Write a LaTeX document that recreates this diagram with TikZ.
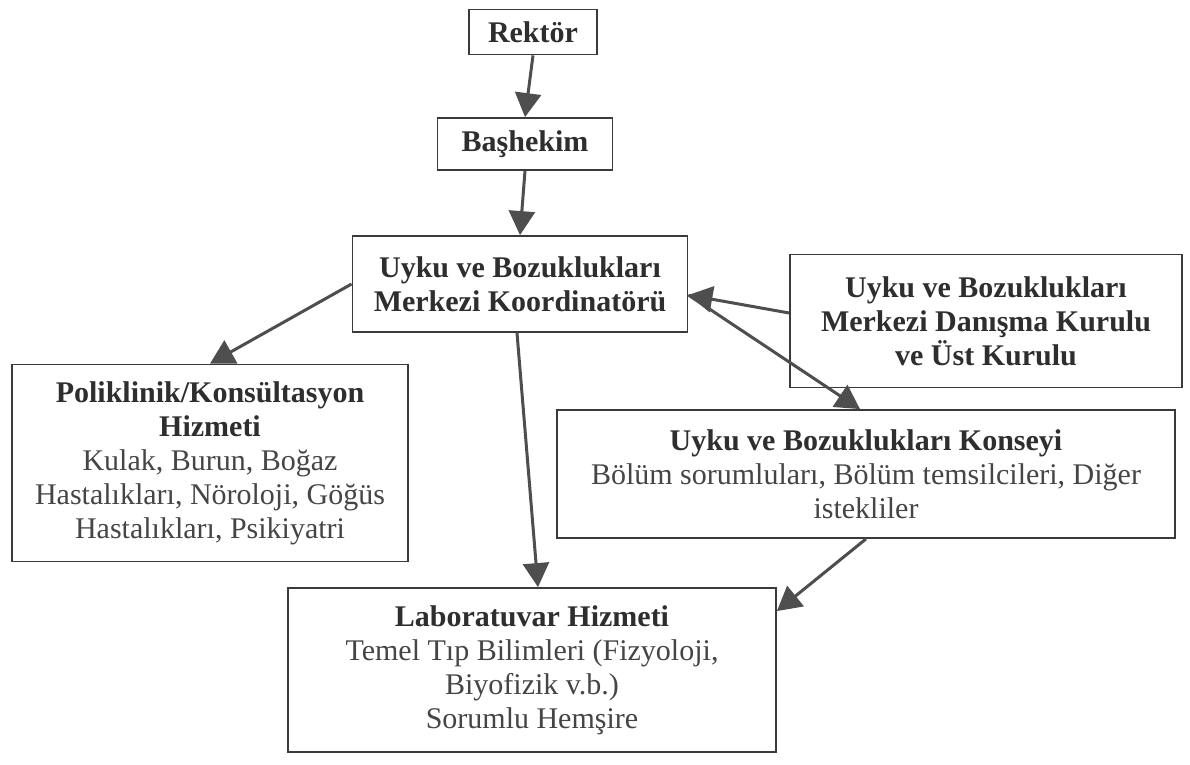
\documentclass[tikz,border=0pt]{standalone}
\usepackage{fontspec}
\setmainfont{Liberation Serif}
\usetikzlibrary{arrows.meta}
\definecolor{boxline}{HTML}{3A3A3A}
\definecolor{arrowc}{HTML}{4E4E4E}
\definecolor{txt}{HTML}{2E2E2E}
\definecolor{txtlight}{HTML}{454545}
\tikzset{
  orgbox/.style={draw=boxline, line width=0.9pt, fill=white, inner sep=0pt, align=center,
    text=txt, font=\fontsize{15}{17}\selectfont},
  conn/.style={draw=arrowc, line width=1.5pt, -{Triangle[length=12pt,width=13pt]}},
}
\newcommand{\ttl}[1]{\textbf{#1}}
\newcommand{\sub}[1]{\textcolor{txtlight}{#1}}
\begin{document}
\begin{tikzpicture}[x=0.5pt,y=-0.5pt]
\useasboundingbox (0,0) rectangle (1190,765);
\node[orgbox, minimum width=64pt, minimum height=22.5pt] (rektor) at (533,32) {\ttl{Rektör}};
\node[orgbox, minimum width=87.5pt, minimum height=26pt] (bashekim) at (525,144) {\ttl{Başhekim}};
\node[orgbox, minimum width=167.5pt, minimum height=48pt] (coord) at (520,284)
  {\ttl{Uyku ve Bozuklukları}\\\ttl{Merkezi Koordinatörü}};
\node[orgbox, minimum width=196pt, minimum height=66.5pt] (danisma) at (986,321)
  {\ttl{Uyku ve Bozuklukları}\\\ttl{Merkezi Danışma Kurulu}\\\ttl{ve Üst Kurulu}};
\node[orgbox, minimum width=198pt, minimum height=98.5pt] (poli) at (210,463)
  {\ttl{Poliklinik/Konsültasyon}\\\ttl{Hizmeti}\\\sub{Kulak, Burun, Boğaz}\\\sub{Hastalıkları, Nöroloji, Göğüs}\\\sub{Hastalıkları, Psikiyatri}};
\node[orgbox, minimum width=309pt, minimum height=64pt] (konsey) at (866,474)
  {\ttl{Uyku ve Bozuklukları Konseyi}\\\sub{Bölüm sorumluları, Bölüm temsilcileri, Diğer}\\\sub{istekliler}};
\node[orgbox, minimum width=244pt, minimum height=82pt] (lab) at (532,670)
  {\ttl{Laboratuvar Hizmeti}\\\sub{Temel Tıp Bilimleri (Fizyoloji,}\\\sub{Biyofizik v.b.)}\\\sub{Sorumlu Hemşire}};
\draw[conn] (rektor.south) -- (bashekim.north);
\draw[conn] (bashekim.south) -- (coord.north);
\draw[conn] (coord.west) -- (poli.north);
\draw[conn] ([xshift=-1.5pt]coord.south) -- ([xshift=3pt]lab.north);
\draw[conn] ([yshift=4pt]danisma.west) -- ([yshift=-5.5pt]coord.east);
\draw[conn] ([yshift=-5.5pt]coord.east) -- ([xshift=-3pt]konsey.north);
\draw[conn] (konsey.south) -- ([yshift=-12pt]lab.north east);
\end{tikzpicture}
\end{document}
